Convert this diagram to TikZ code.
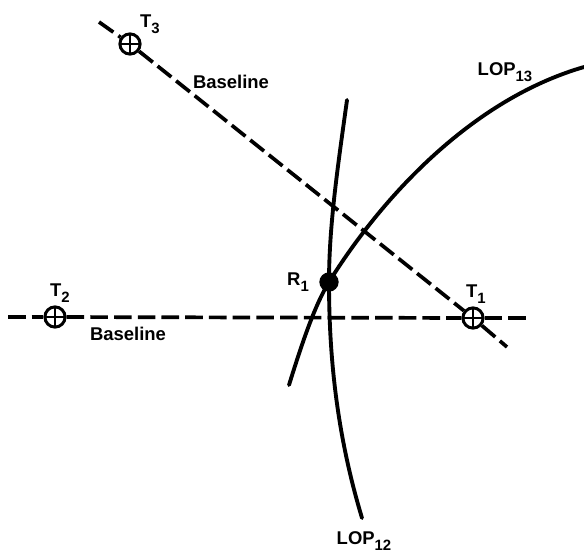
\documentclass[tikz,border=0pt]{standalone}
\usepackage{fontspec}
\setmainfont{Liberation Sans}
\usetikzlibrary{positioning}

\newcommand{\labsub}[1]{\raisebox{-3.5pt}{\fontsize{8.5}{9}\selectfont #1}}

\begin{document}
\begin{tikzpicture}[
  x=0.2mm, y=-0.2mm,
  target/.style={
    circle, draw=black, line width=1.7pt, fill=white,
    inner sep=0pt, minimum size=11.5pt,
    path picture={
      \draw[line width=0.9pt] (path picture bounding box.north) -- (path picture bounding box.south); % Vertical
      \draw[line width=0.9pt] (path picture bounding box.west) -- (path picture bounding box.east); % Horizontal
    }
  },
  receiver/.style={circle, fill=black, inner sep=0pt, minimum size=11pt},
  baseline/.style={line width=2.1pt, dash pattern=on 10pt off 3.5pt},
  lop/.style={line width=2.2pt, line cap=round},
  tag/.style={font=\bfseries\fontsize{10.5}{12}\selectfont, inner sep=0pt}
]
\useasboundingbox (0,0) rectangle (584,556);

% ----------------- LINE ENDS -----------------
\coordinate (b3) at (99,22);
\coordinate (b1) at (507,347);
\coordinate (b2) at (8,317);
\coordinate (b4) at (527,318);
\coordinate (lop13a) at (289,385);
\coordinate (lop13b) at (584,67);
\coordinate (lop12a) at (347,100);
\coordinate (lop12b) at (362,518);

% ----------------- TRANSMITTERS AND RECEIVER -----------------
\node[target] (t3) at (130,44) {};
\node[target] (t1) at (473,318) {};
\node[target] (t2) at (55,317) {};
\node[receiver] (r1) at (329,282) {};

% ----------------- BASELINES -----------------
\draw[baseline] (b3) -- (t3);
\draw[baseline] (t3) -- (t1);
\draw[baseline] (t1) -- (b1);
\draw[baseline] (b2) -- (t2);
\draw[baseline] (t2) -- (t1);
\draw[baseline] (t1) -- (b4);

% ----------------- LINES OF POSITION -----------------
\draw[lop] (lop13a) .. controls (303,340) and (315,305) .. (r1.center)
  .. controls (380,200) and (470,100) .. (lop13b);
\draw[lop] (lop12a) .. controls (338,165) and (329,225) .. (r1.center)
  .. controls (329,370) and (340,445) .. (lop12b);

% ----------------- LABELS -----------------
\node[tag] (t3_lab) at (150,24) {T\labsub{3}};
\node[tag] (t1_lab) at (476,294) {T\labsub{1}};
\node[tag] (t2_lab) at (60,293) {T\labsub{2}};
\node[tag] (r1_lab) at (298,282) {R\labsub{1}};
\node[tag] (base_top) at (231,82) {Baseline};
\node[tag] (base_low) at (128,334) {Baseline};
\node[tag] (lop13_lab) at (505,72) {LOP\labsub{13}};
\node[tag] (lop12_lab) at (364,541) {LOP\labsub{12}};

\end{tikzpicture}
\end{document}
